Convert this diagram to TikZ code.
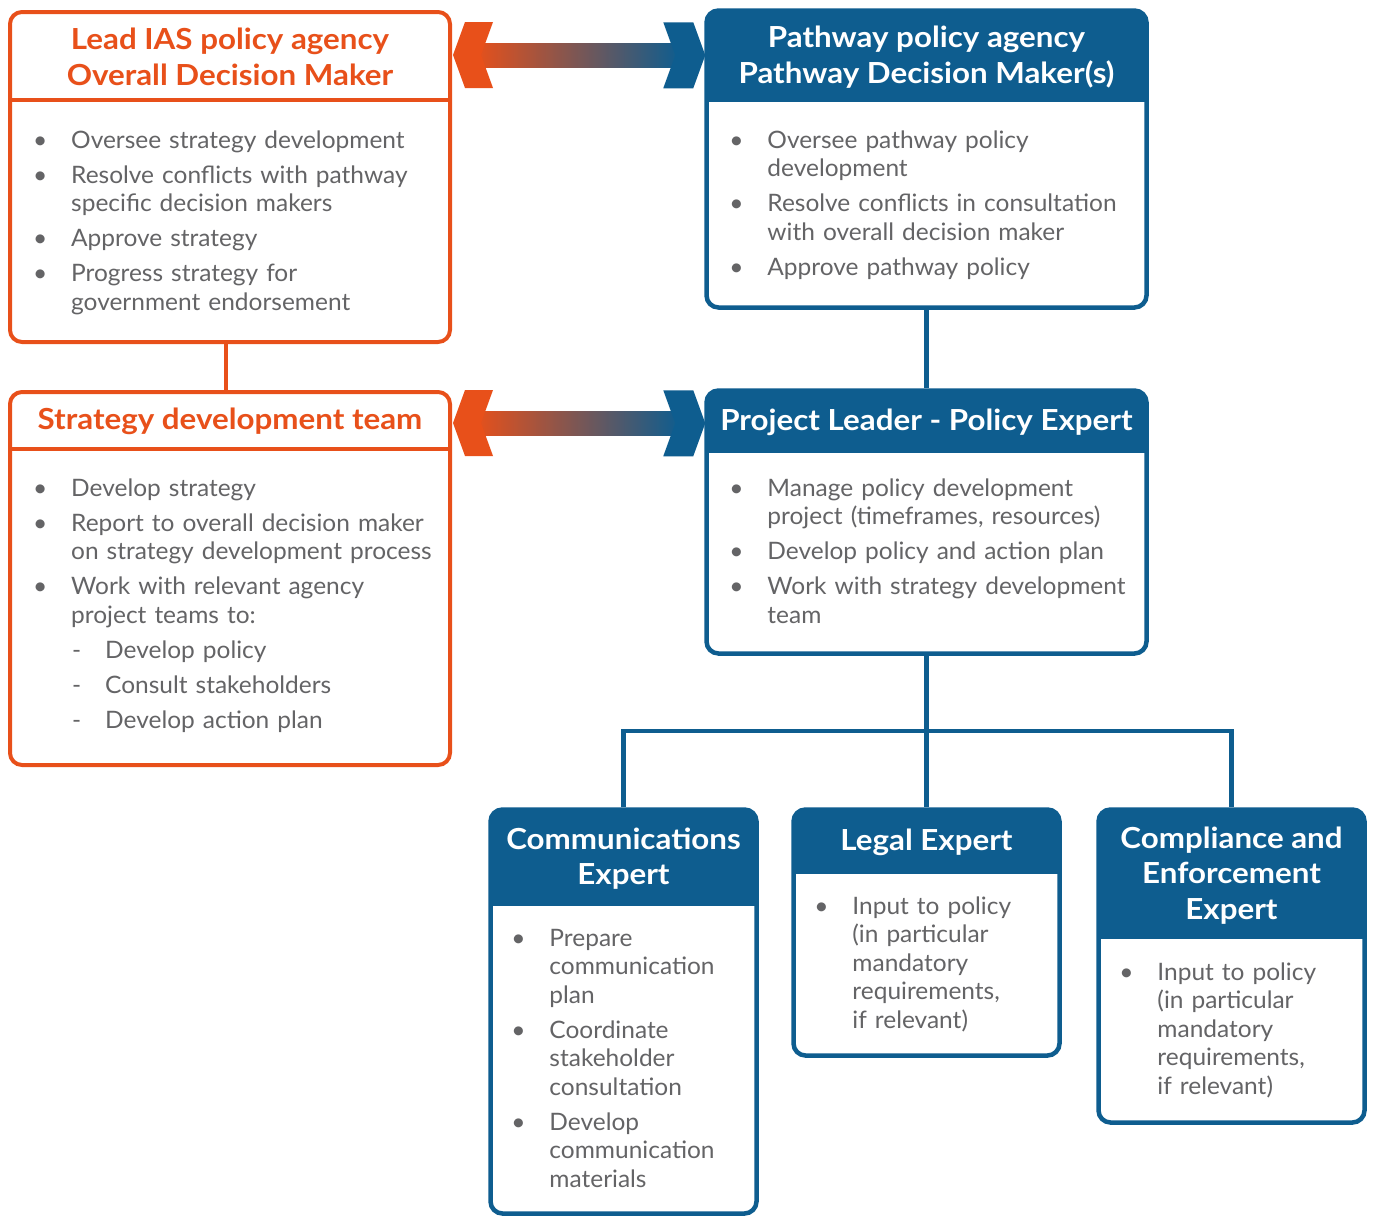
\documentclass[tikz,border=0pt]{standalone}
\usepackage{fontspec}
\setmainfont{Lato}[FakeStretch=1.02]
\newfontfamily\titlefont{Lato}[FakeStretch=1.08]
\usepackage{enumitem}
\definecolor{iasorange}{HTML}{E8501A}
\definecolor{iasblue}{HTML}{0E5D8F}
\definecolor{iasgrey}{HTML}{646466}
\setlist[itemize,1]{label=\textbullet, leftmargin=33pt, labelsep=24pt, itemsep=6.5pt, topsep=0pt, parsep=0pt, partopsep=0pt}
\setlist[itemize,2]{label=-, leftmargin=32pt, labelsep=24pt, itemsep=6.5pt, topsep=6.5pt, parsep=0pt, partopsep=0pt}

\begin{document}
\begin{tikzpicture}[x=1pt, y=-1pt,
    oframe/.style={draw=iasorange, fill=white, line width=4pt, rounded corners=12pt, inner sep=0pt,
      path picture={\draw[iasorange, line width=4pt, sharp corners] ([yshift=-#1pt]path picture bounding box.north west) -- ([yshift=-#1pt]path picture bounding box.north east);}},
    bframe/.style={draw=iasblue, fill=white, line width=4.5pt, rounded corners=12pt, inner sep=0pt,
      path picture={\fill[iasblue, sharp corners] (path picture bounding box.north west) rectangle ([yshift=-#1pt]path picture bounding box.north east);}},
    otitle/.style={text=iasorange, font=\titlefont\fontsize{29}{35.5}\selectfont\bfseries, align=center, inner sep=0pt},
    btitle/.style={text=white, font=\titlefont\fontsize{29}{35.5}\selectfont\bfseries, align=center, inner sep=0pt},
    itemtext/.style={anchor=base west, text width=#1, align=left, inner sep=0pt, text=iasgrey, font=\fontsize{24}{28.5}\selectfont},
    oline/.style={draw=iasorange, line width=4pt},
    bline/.style={draw=iasblue, line width=4.5pt}]

  \fill[white] (0,0) rectangle (1373,1218);
  \useasboundingbox (0,0) rectangle (1373,1218);

  \node[oframe=88, minimum width=440pt, minimum height=330pt] (lead) at (230,177) {};
  \node[otitle] (leadtitle) at ([yshift=-47pt]lead.north) {Lead IAS policy agency\\Overall Decision Maker};
  \node[itemtext=406pt] (leadtext) at ([xshift=30pt, yshift=-109.5pt]lead.north west) {%
    \begin{itemize}
      \item Oversee strategy development
      \item Resolve conflicts with pathway\\specific decision makers
      \item Approve strategy
      \item Progress strategy for\\government endorsement
    \end{itemize}};

  \node[oframe=57, minimum width=440pt, minimum height=373pt] (team) at (230,578.5) {};
  \node[otitle] (teamtitle) at ([yshift=-31.5pt]team.north) {Strategy development team};
  \node[itemtext=406pt] (teamtext) at ([xshift=30pt, yshift=-77.5pt]team.north west) {%
    \begin{itemize}
      \item Develop strategy
      \item Report to overall decision maker\\on strategy development process
      \item Work with relevant agency\\project teams to:
      \begin{itemize}
        \item Develop policy
        \item Consult stakeholders
        \item Develop action plan
      \end{itemize}
    \end{itemize}};

  \node[bframe=91, minimum width=440pt, minimum height=297pt] (path) at (926.5,159) {};
  \node[btitle] (pathtitle) at ([yshift=-49pt]path.north) {Pathway policy agency\\Pathway Decision Maker(s)};
  \node[itemtext=406pt] (pathtext) at ([xshift=30pt, yshift=-111.5pt]path.north west) {%
    \begin{itemize}
      \item Oversee pathway policy\\development
      \item Resolve conflicts in consultation\\with overall decision maker
      \item Approve pathway policy
    \end{itemize}};

  \node[bframe=62, minimum width=440pt, minimum height=263pt] (proj) at (926.5,522) {};
  \node[btitle] (projtitle) at ([yshift=-34pt]proj.north) {Project Leader - Policy Expert};
  \node[itemtext=406pt] (projtext) at ([xshift=30pt, yshift=-79.5pt]proj.north west) {%
    \begin{itemize}
      \item Manage policy development\\project (timeframes, resources)
      \item Develop policy and action plan
      \item Work with strategy development\\team
    \end{itemize}};

  \node[bframe=96, minimum width=266pt, minimum height=404pt] (comm) at (623.5,1011.5) {};
  \node[btitle] (commtitle) at ([yshift=-51.5pt]comm.north) {Communications\\Expert};
  \node[itemtext=236pt] (commtext) at ([xshift=28pt, yshift=-110.5pt]comm.north west) {%
    \begin{itemize}
      \item Prepare\\communication\\plan
      \item Coordinate\\stakeholder\\consultation
      \item Develop\\communication\\materials
    \end{itemize}};

  \node[bframe=64, minimum width=266pt, minimum height=246pt] (legal) at (926.5,932.5) {};
  \node[btitle] (legaltitle) at ([yshift=-35pt]legal.north) {Legal Expert};
  \node[itemtext=236pt] (legaltext) at ([xshift=28pt, yshift=-78.5pt]legal.north west) {%
    \begin{itemize}
      \item Input to policy\\(in particular\\mandatory\\requirements,\\if relevant)
    \end{itemize}};

  \node[bframe=129, minimum width=266pt, minimum height=313pt] (compl) at (1231.5,966) {};
  \node[btitle] (compltitle) at ([yshift=-68pt]compl.north) {Compliance and\\Enforcement\\Expert};
  \node[itemtext=236pt] (compltext) at ([xshift=28pt, yshift=-144.5pt]compl.north west) {%
    \begin{itemize}
      \item Input to policy\\(in particular\\mandatory\\requirements,\\if relevant)
    \end{itemize}};

  \draw[oline] ([xshift=-4pt]lead.south) -- ([xshift=-4pt]team.north);
  \draw[bline] (path) -- (proj);
  \draw[bline] (proj) -- (legal);
  \coordinate (bus) at (926.5,731);
  \draw[bline] (comm.north) |- (bus) -| (compl.north);

  \coordinate (l1) at ([yshift=-45pt]lead.north east);
  \coordinate (r1) at ([yshift=-47pt]path.north west);
  \coordinate (l2) at ([yshift=-33pt]team.north east);
  \coordinate (r2) at ([yshift=-35pt]proj.north west);
  \foreach \from/\to in {l1/r1, l2/r2}{
    \shade[left color=iasorange, right color=iasblue] ([xshift=22pt, yshift=12pt]\from) rectangle ([xshift=-24pt, yshift=-12pt]\to);
    \fill[iasorange] ([xshift=1pt]\from) -- ++(12,-33) -- ++(28,0) -- ++(-12,33) -- ++(12,33) -- ++(-28,0) -- cycle;
    \fill[iasblue] ([xshift=1pt]\to) -- ++(-12,-33) -- ++(-30,0) -- ++(12,33) -- ++(-12,33) -- ++(30,0) -- cycle;
  }
\end{tikzpicture}
\end{document}
